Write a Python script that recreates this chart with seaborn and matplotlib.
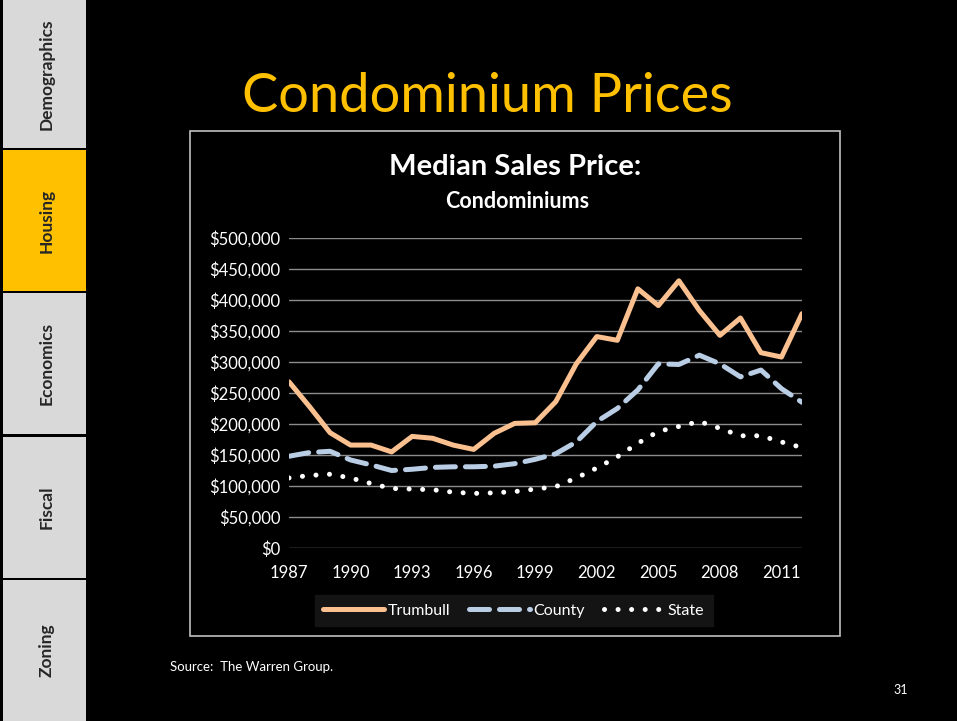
import matplotlib
matplotlib.use("Agg")
import matplotlib.pyplot as plt
from matplotlib.patches import Rectangle
import seaborn as sns
import pandas as pd

years = list(range(1987, 2013))
trumbull = [268000, 228000, 186000, 166000, 166000, 155000, 180000, 177000, 166000, 159000,
            185000, 201000, 202000, 236000, 297000, 341000, 335000, 418000, 391000, 431000,
            383000, 343000, 371000, 315000, 308000, 378000]
county = [148000, 154000, 156000, 142000, 134000, 125000, 127000, 130000, 131000, 131000,
          132000, 136000, 143000, 152000, 171000, 204000, 225000, 255000, 297000, 296000,
          311000, 297000, 276000, 287000, 257000, 235000]
state = [113000, 117000, 119000, 113000, 104000, 96000, 95000, 94000, 90000, 88000,
         89000, 91000, 95000, 99000, 113000, 129000, 147000, 169000, 188000, 196000,
         204000, 193000, 181000, 181000, 171000, 162000]
series_names = ["Trumbull", "County", "State"]
xtick_years = list(range(1987, 2012, 3))
yticks = list(range(0, 500001, 50000))
tabs = ["Demographics", "Housing", "Economics", "Fiscal", "Zoning"]

sns.set_theme(style="dark")
plt.rcParams["font.family"] = ["Lato", "DejaVu Sans"]

fig = plt.figure(figsize=(9.57, 7.21), dpi=100, facecolor="black")
W, H = 957, 721

def fx(x):
    return x / W

def fy(y):
    return 1 - y / H

# sidebar tabs
tab_bounds = [(0, 148), (150, 291), (293, 434), (437, 578), (580, 721)]
for name, (t, b) in zip(tabs, tab_bounds):
    col = "#FFC000" if name == "Housing" else "#D9D9D9"
    fig.patches.append(Rectangle((fx(3), fy(b)), fx(86 - 3), (b - t) / H,
                                 transform=fig.transFigure, facecolor=col,
                                 edgecolor="none", zorder=-5))
    fig.text(fx(47), fy((t + b) / 2), name, rotation=90, ha="center", va="center",
             fontsize=12.5, fontweight="bold", color="#262626")

# slide title
fig.text(fx(487), fy(97), "Condominium Prices", ha="center", va="center",
         fontsize=39, color="#FFC000")

# chart frame
fig.patches.append(Rectangle((fx(190), fy(636)), fx(840 - 190), (636 - 131) / H,
                             transform=fig.transFigure, facecolor="black",
                             edgecolor="#BFBFBF", lw=1.2, zorder=-5))
fig.text(fx(515), fy(167), "Median Sales Price:", ha="center", va="center",
         fontsize=21, fontweight="bold", color="white")
fig.text(fx(517), fy(201), "Condominiums", ha="center", va="center",
         fontsize=15.5, fontweight="bold", color="white")

ax = fig.add_axes([fx(289), fy(548), fx(802 - 289), (548 - 238) / H])
ax.set_zorder(5)
ax.set_facecolor("black")

df = pd.DataFrame({"Year": years * 3,
                   "Price": trumbull + county + state,
                   "Series": [series_names[0]] * len(years) + [series_names[1]] * len(years)
                             + [series_names[2]] * len(years)})

colors = {"Trumbull": "#FAC090", "County": "#B9CDE5", "State": "white"}
for s in series_names:
    sub = df[df["Series"] == s]
    sns.lineplot(data=sub, x="Year", y="Price", ax=ax, color=colors[s], lw=3.6,
                 label=s, zorder=3)

lines = ax.get_lines()
lines[0].set_solid_capstyle("round")
lines[1].set_dashes((4, 2))
lines[1].set_dash_capstyle("round")
lines[2].set_dashes((0.01, 2.7))
lines[2].set_dash_capstyle("round")

ax.set_xlim(1987, 2012)
ax.set_ylim(0, 500000)
ax.set_xticks(xtick_years)
ax.set_xticklabels([str(y) for y in xtick_years])
ax.set_yticks(yticks)
ax.set_yticklabels(["${:,}".format(v) for v in yticks])
ax.tick_params(colors="white", labelsize=12, length=0)
ax.tick_params(axis="x", pad=12)
ax.tick_params(axis="y", pad=6)
ax.grid(axis="y", color="#8C8C8C", lw=1)
ax.grid(axis="x", visible=False)
for sp in ax.spines.values():
    sp.set_visible(False)
ax.set_xlabel("")
ax.set_ylabel("")

leg = ax.legend(loc="upper center", bbox_to_anchor=(0.438, -0.125), ncol=3,
                frameon=True, facecolor="#141414", edgecolor="#141414",
                fontsize=11.5, handlelength=3.8, columnspacing=1.2, handletextpad=0.2,
                borderpad=0.55, fancybox=False)
for t in leg.get_texts():
    t.set_color("white")
leg.get_frame().set_alpha(1)

fig.text(fx(170), fy(667), "Source:  The Warren Group.", ha="left", va="center",
         fontsize=9.5, color="white")
fig.text(fx(901), fy(690), "31", ha="center", va="center", fontsize=9, color="white")

fig.savefig("out.png", dpi=100, facecolor="black")
